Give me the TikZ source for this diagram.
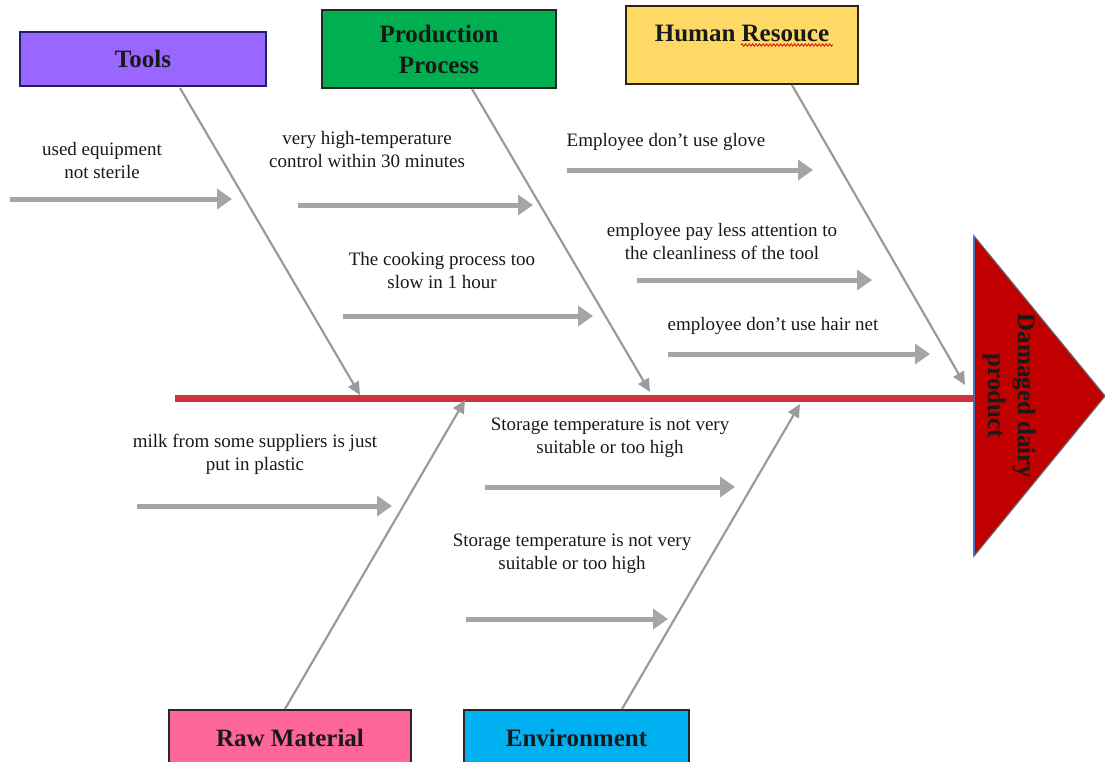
\documentclass[tikz,border=0pt]{standalone}
\usepackage{fontspec}
\setmainfont{Liberation Serif}
\usetikzlibrary{arrows.meta,decorations.pathmorphing}
\definecolor{toolpurple}{RGB}{153,102,255}
\definecolor{prodgreen}{RGB}{0,176,80}
\definecolor{hryellow}{RGB}{255,217,102}
\definecolor{rawpink}{RGB}{255,102,153}
\definecolor{envcyan}{RGB}{0,176,240}
\definecolor{headred}{RGB}{192,0,0}
\definecolor{spinered}{RGB}{208,50,58}
\definecolor{arrowgray}{RGB}{165,165,165}
\definecolor{bonegray}{RGB}{155,155,155}
\definecolor{navyedge}{RGB}{32,32,96}
\definecolor{edgeblue}{RGB}{68,114,196}
\begin{document}
\begin{tikzpicture}[x=1pt,y=-1pt,
  catbox/.style={draw=black!85, line width=1.4pt, font=\fontsize{25}{31}\selectfont\bfseries, text=black!90, align=center, inner sep=0pt},
  cause/.style={font=\fontsize{19}{23}\selectfont, align=center, inner sep=0pt, text=black!90},
  causearrow/.style={draw=arrowgray, line width=5pt, -{Triangle[length=15pt,width=20pt]}},
  bone/.style={draw=bonegray, line width=2.2pt, -{Triangle[length=13pt,width=12pt]}},
]
\useasboundingbox (0,0) rectangle (1105,761);

% category boxes
\node[catbox, fill=toolpurple, draw=navyedge, minimum width=246pt, minimum height=54pt] (tools) at (143,59) {Tools};
\node[catbox, fill=prodgreen, minimum width=234pt, minimum height=78pt] (prod) at (439,49) {Production\\Process};
\node[catbox, fill=hryellow, draw=black!75!brown, minimum width=232pt, minimum height=78pt] (hr) at (742,45) {};
\node[font=\fontsize{25}{31}\selectfont\bfseries, text=black!90, inner sep=0pt] (hrtext) at (742,33) {Human Resouce};
\draw[red!85!black, line width=0.8pt, decorate, decoration={snake, amplitude=1.2pt, segment length=3.5pt}] (741,45) -- (833,45);
\node[catbox, fill=rawpink, minimum width=242pt, minimum height=56pt] (raw) at (290,738) {Raw Material};
\node[catbox, fill=envcyan, minimum width=225pt, minimum height=56pt] (env) at (576.5,738) {Environment};

% head
\coordinate (headL) at (974,398);
\filldraw[fill=headred, draw=black!60, line width=1.2pt] (974,236) -- (1105,396) -- (974,556) -- cycle;
\draw[edgeblue, line width=1.2pt] (974,236) -- (974,556);
\node[font=\fontsize{25}{30}\selectfont\bfseries, text=black!90, rotate=-90, align=center, inner sep=0pt] (head) at (1009,396) {Damaged dairy\\product};

% spine
\coordinate (spineL) at (175,398);
\draw[spinered, line width=7pt] (spineL) -- (headL);

% bones
\coordinate (toolsB) at (180,88);  \coordinate (toolsE) at (360,395);
\coordinate (prodB) at (472,89);   \coordinate (prodE) at (650,392);
\coordinate (hrB) at (792,85);     \coordinate (hrE) at (965,385);
\coordinate (rawB) at (285,709);   \coordinate (rawE) at (465,400);
\coordinate (envB) at (622,709);   \coordinate (envE) at (800,404);
\draw[bone] (toolsB) -- (toolsE);
\draw[bone] (prodB) -- (prodE);
\draw[bone] (hrB) -- (hrE);
\draw[bone] (rawB) -- (rawE);
\draw[bone] (envB) -- (envE);

% causes
\node[cause] (c1) at (102,160) {used equipment\\not sterile};
\coordinate (a1s) at (10,199);  \coordinate (a1e) at (232,199);
\draw[causearrow] (a1s) -- (a1e);

\node[cause] (c2) at (367,149) {very high-temperature\\control within 30 minutes};
\coordinate (a2s) at (298,205); \coordinate (a2e) at (533,205);
\draw[causearrow] (a2s) -- (a2e);

\node[cause] (c3) at (442,270) {The cooking process too\\slow in 1 hour};
\coordinate (a3s) at (343,316); \coordinate (a3e) at (593,316);
\draw[causearrow] (a3s) -- (a3e);

\node[cause] (c4) at (666,142) {Employee don't use glove};
\coordinate (a4s) at (567,170); \coordinate (a4e) at (813,170);
\draw[causearrow] (a4s) -- (a4e);

\node[cause] (c5) at (722,241) {employee pay less attention to\\the cleanliness of the tool};
\coordinate (a5s) at (637,280); \coordinate (a5e) at (872,280);
\draw[causearrow] (a5s) -- (a5e);

\node[cause] (c6) at (773,326) {employee don't use hair net};
\coordinate (a6s) at (668,354); \coordinate (a6e) at (930,354);
\draw[causearrow] (a6s) -- (a6e);

\node[cause] (c7) at (255,454) {milk from some suppliers is just\\put in plastic};
\coordinate (a7s) at (137,506); \coordinate (a7e) at (392,506);
\draw[causearrow] (a7s) -- (a7e);

\node[cause] (c8) at (610,438) {Storage temperature is not very\\suitable or too high};
\coordinate (a8s) at (485,487); \coordinate (a8e) at (735,487);
\draw[causearrow] (a8s) -- (a8e);

\node[cause] (c9) at (572,554) {Storage temperature is not very\\suitable or too high};
\coordinate (a9s) at (466,619); \coordinate (a9e) at (668,619);
\draw[causearrow] (a9s) -- (a9e);
\end{tikzpicture}
\end{document}
